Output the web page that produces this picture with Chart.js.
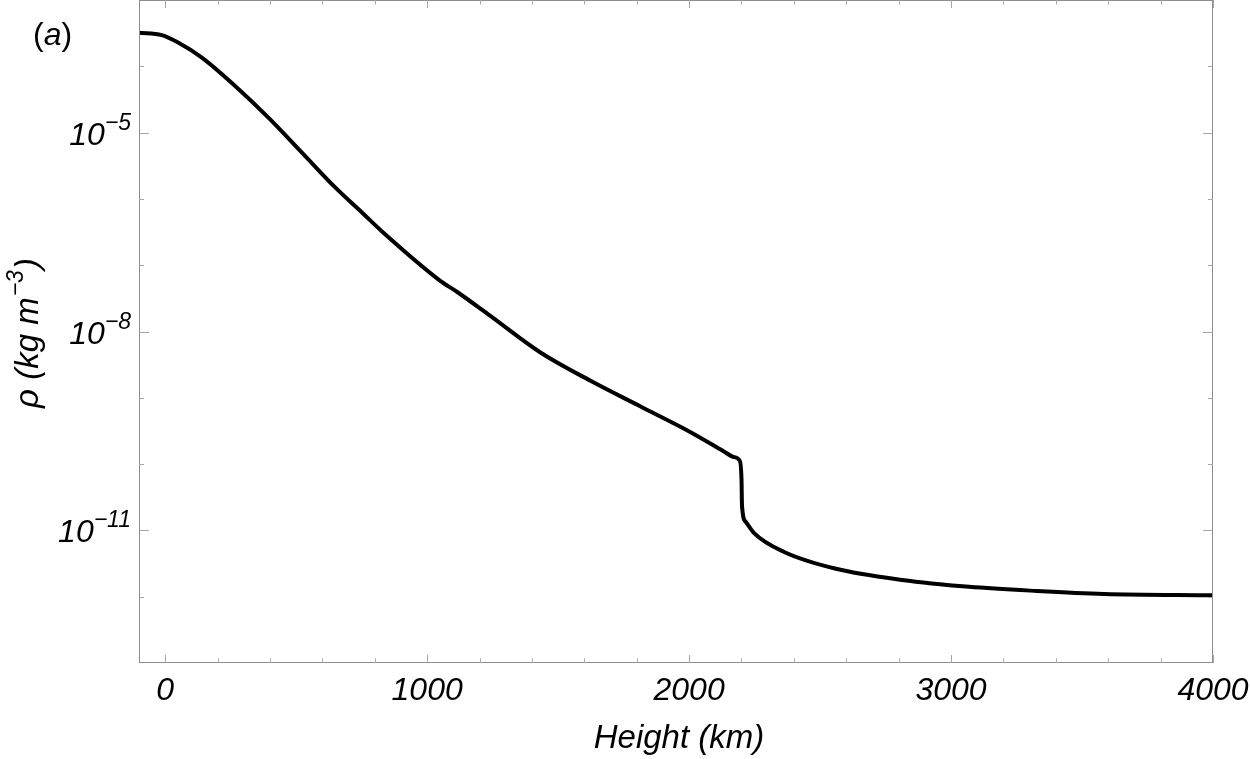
<!DOCTYPE html>
<html>
<head>
<meta charset="utf-8">
<script src="https://cdn.jsdelivr.net/npm/chart.js@4/dist/chart.umd.min.js"></script>
<style>
  html, body { margin: 0; padding: 0; background: #ffffff; }
  #wrap { width: 1250px; height: 759px; position: relative; }
</style>
</head>
<body>
<div id="wrap"><canvas id="c" width="1250" height="759"></canvas></div>
<script>
// ---- Data ----
const heights = [-100, -13, 51, 140, 267, 394, 522, 649, 751, 832, 1050, 1115, 1240, 1431, 1622, 1813, 2004, 2130, 2170, 2193, 2200, 2202, 2216, 2248, 2363, 2557, 2813, 3069, 3328, 3584, 4000];
const densities = [3.21e-4, 2.95e-4, 2.26e-4, 1.35e-4, 5.04e-5, 1.68e-5, 5.00e-6, 1.49e-6, 6.24e-7, 3.12e-7, 5.82e-8, 3.94e-8, 1.73e-8, 4.86e-9, 1.82e-9, 7.45e-10, 3.06e-10, 1.58e-10, 1.28e-10, 1.13e-10, 6.03e-11, 2.34e-11, 1.35e-11, 9.12e-12, 4.73e-12, 2.66e-12, 1.79e-12, 1.41e-12, 1.22e-12, 1.10e-12, 1.05e-12];

const xMajorTicks = [0, 1000, 2000, 3000, 4000];
const xTickLabels = ['0', '1000', '2000', '3000', '4000'];
const xMinorTicks = [200, 400, 600, 800, 1200, 1400, 1600, 1800, 2200, 2400, 2600, 2800, 3200, 3400, 3600, 3800];
const yMajorTicks = [1e-5, 1e-8, 1e-11];
const yTickBase = ['10', '10', '10'];
const yTickExp = ['\u22125', '\u22128', '\u221211'];
const yMinorTicks = [1e-4, 1e-6, 1e-7, 1e-9, 1e-10, 1e-12];

const xTitle = 'Height (km)';
const yTitleParts = ['\u03C1 (kg m', '\u22123', ')'];
const panelLabel = ['(', 'a', ')'];

const FONT = "'Liberation Sans', Arial, Helvetica, sans-serif";

const decorPlugin = {
  id: 'decor',
  afterDraw(chart) {
    const { ctx, chartArea: a, scales } = chart;
    const xs = scales.x, ys = scales.y;
    ctx.save();

    // frame
    ctx.strokeStyle = '#8e8e8e';
    ctx.lineWidth = 1;
    ctx.strokeRect(a.left + 0.5, a.top + 0.5, a.right - a.left - 1, a.bottom - a.top - 1);

    // ticks (inward on all four sides)
    ctx.strokeStyle = '#a6a6a6';
    ctx.beginPath();
    const xt = (vals, len) => vals.forEach(v => {
      const px = Math.round(xs.getPixelForValue(v)) + 0.5;
      ctx.moveTo(px, a.bottom); ctx.lineTo(px, a.bottom - len);
      ctx.moveTo(px, a.top); ctx.lineTo(px, a.top + len);
    });
    const yt = (vals, len) => vals.forEach(v => {
      const py = Math.round(ys.getPixelForValue(v)) + 0.5;
      ctx.moveTo(a.left, py); ctx.lineTo(a.left + len, py);
      ctx.moveTo(a.right, py); ctx.lineTo(a.right - len, py);
    });
    xt(xMajorTicks, 8); xt(xMinorTicks, 4.5);
    yt(yMajorTicks, 10); yt(yMinorTicks, 5);
    ctx.stroke();

    ctx.fillStyle = '#000';
    // x tick labels
    ctx.font = 'italic 32px ' + FONT;
    ctx.textAlign = 'center';
    ctx.textBaseline = 'alphabetic';
    xMajorTicks.forEach((v, i) => {
      ctx.fillText(xTickLabels[i], xs.getPixelForValue(v), 700);
    });

    // y tick labels with superscripts
    const rightEdge = a.left - 8;
    yMajorTicks.forEach((v, i) => {
      const py = ys.getPixelForValue(v);
      ctx.textAlign = 'left';
      ctx.font = 'italic 23px ' + FONT;
      const ew = ctx.measureText(yTickExp[i]).width;
      ctx.fillText(yTickExp[i], rightEdge - ew, py - 3);
      ctx.font = 'italic 32px ' + FONT;
      const bw = ctx.measureText(yTickBase[i]).width;
      ctx.fillText(yTickBase[i], rightEdge - ew - bw, py + 12);
    });

    // x title
    ctx.font = 'italic 33px ' + FONT;
    ctx.textAlign = 'center';
    ctx.fillText(xTitle, (a.left + a.right) / 2 + 3, 748);

    // y title (rotated)
    ctx.save();
    ctx.translate(38, 333);
    ctx.rotate(-Math.PI / 2);
    ctx.textAlign = 'left';
    ctx.font = 'italic 33px ' + FONT;
    const w0 = ctx.measureText(yTitleParts[0]).width;
    ctx.font = 'italic 23px ' + FONT;
    const w1 = ctx.measureText(yTitleParts[1]).width;
    ctx.font = 'italic 33px ' + FONT;
    const w2 = ctx.measureText(yTitleParts[2]).width;
    let sx = -(w0 + w1 + w2 + 2) / 2;
    ctx.fillText(yTitleParts[0], sx, 0);
    ctx.font = 'italic 23px ' + FONT;
    ctx.fillText(yTitleParts[1], sx + w0 + 1, -15);
    ctx.font = 'italic 33px ' + FONT;
    ctx.fillText(yTitleParts[2], sx + w0 + w1 + 2, 0);
    ctx.restore();

    // panel label (a)
    ctx.textAlign = 'left';
    let px = 33;
    ctx.font = '32px ' + FONT;
    ctx.fillText(panelLabel[0], px, 45);
    px += ctx.measureText(panelLabel[0]).width;
    ctx.font = 'italic 32px ' + FONT;
    ctx.fillText(panelLabel[1], px, 45);
    px += ctx.measureText(panelLabel[1]).width;
    ctx.font = '32px ' + FONT;
    ctx.fillText(panelLabel[2], px, 45);

    ctx.restore();
  }
};

new Chart(document.getElementById('c'), {
  type: 'line',
  data: {
    datasets: [{
      data: heights.map((h, i) => ({ x: h, y: densities[i] })),
      borderColor: '#000000',
      borderWidth: 4,
      pointRadius: 0,
      fill: false,
      cubicInterpolationMode: 'monotone'
    }]
  },
  options: {
    responsive: false,
    animation: false,
    devicePixelRatio: 1,
    layout: { padding: { left: 139, right: 37, top: 0, bottom: 96 } },
    plugins: { legend: { display: false }, tooltip: { enabled: false } },
    scales: {
      x: {
        type: 'linear', min: -100, max: 4000,
        display: true,
        grid: { display: false, drawTicks: false },
        border: { display: false },
        ticks: { display: false }
      },
      y: {
        type: 'logarithmic', min: 1e-13, max: 1e-3,
        display: true,
        grid: { display: false, drawTicks: false },
        border: { display: false },
        ticks: { display: false }
      }
    }
  },
  plugins: [decorPlugin]
});
</script>
</body>
</html>
